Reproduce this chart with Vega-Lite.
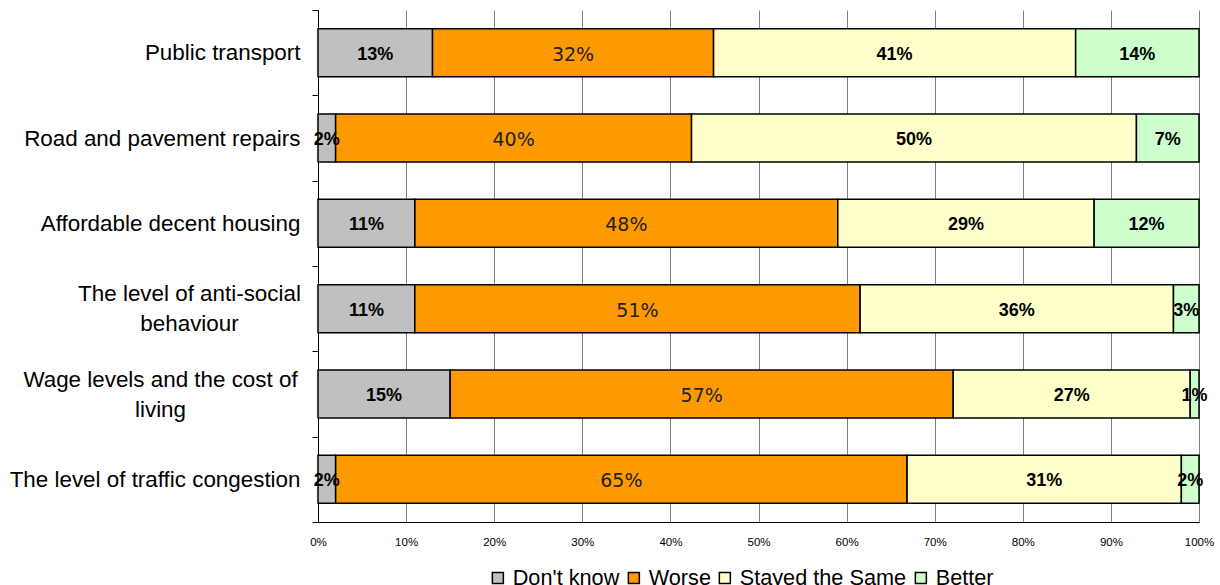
{
  "$schema": "https://vega.github.io/schema/vega-lite/v6.json",
  "width": 881,
  "height": 512,
  "autosize": {"type": "none"},
  "padding": {"left": 318, "top": 10, "right": 21, "bottom": 63},
  "background": "white",
  "config": {"view": {"stroke": null}, "font": "Liberation Sans"},
  "data": {
    "values": [
      {"item": "Public transport", "response": "Don't know", "value": 13.0, "label": "13%", "rank": 1},
      {"item": "Public transport", "response": "Worse", "value": 31.9, "label": "32%", "rank": 2},
      {"item": "Public transport", "response": "Stayed the Same", "value": 41.1, "label": "41%", "rank": 3},
      {"item": "Public transport", "response": "Better", "value": 14.0, "label": "14%", "rank": 4},
      {"item": "Road and pavement repairs", "response": "Don't know", "value": 2.0, "label": "2%", "rank": 1},
      {"item": "Road and pavement repairs", "response": "Worse", "value": 40.4, "label": "40%", "rank": 2},
      {"item": "Road and pavement repairs", "response": "Stayed the Same", "value": 50.5, "label": "50%", "rank": 3},
      {"item": "Road and pavement repairs", "response": "Better", "value": 7.1, "label": "7%", "rank": 4},
      {"item": "Affordable decent housing", "response": "Don't know", "value": 11.0, "label": "11%", "rank": 1},
      {"item": "Affordable decent housing", "response": "Worse", "value": 48.0, "label": "48%", "rank": 2},
      {"item": "Affordable decent housing", "response": "Stayed the Same", "value": 29.1, "label": "29%", "rank": 3},
      {"item": "Affordable decent housing", "response": "Better", "value": 11.9, "label": "12%", "rank": 4},
      {"item": "The level of anti-social behaviour", "response": "Don't know", "value": 11.0, "label": "11%", "rank": 1},
      {"item": "The level of anti-social behaviour", "response": "Worse", "value": 50.6, "label": "51%", "rank": 2},
      {"item": "The level of anti-social behaviour", "response": "Stayed the Same", "value": 35.6, "label": "36%", "rank": 3},
      {"item": "The level of anti-social behaviour", "response": "Better", "value": 2.9, "label": "3%", "rank": 4},
      {"item": "Wage levels and the cost of living", "response": "Don't know", "value": 15.0, "label": "15%", "rank": 1},
      {"item": "Wage levels and the cost of living", "response": "Worse", "value": 57.1, "label": "57%", "rank": 2},
      {"item": "Wage levels and the cost of living", "response": "Stayed the Same", "value": 26.9, "label": "27%", "rank": 3},
      {"item": "Wage levels and the cost of living", "response": "Better", "value": 1.0, "label": "1%", "rank": 4},
      {"item": "The level of traffic congestion", "response": "Don't know", "value": 2.0, "label": "2%", "rank": 1},
      {"item": "The level of traffic congestion", "response": "Worse", "value": 64.8, "label": "65%", "rank": 2},
      {"item": "The level of traffic congestion", "response": "Stayed the Same", "value": 31.1, "label": "31%", "rank": 3},
      {"item": "The level of traffic congestion", "response": "Better", "value": 2.0, "label": "2%", "rank": 4}
    ]
  },
  "encoding": {
    "y": {
      "field": "item",
      "type": "nominal",
      "sort": null,
      "scale": {"paddingInner": 0, "paddingOuter": 0},
      "axis": {
        "title": null,
        "grid": false,
        "tickBand": "extent",
        "tickSize": 6,
        "tickColor": "black",
        "domainColor": "black",
        "labelFontSize": 22.4,
        "labelColor": "black",
        "labelLimit": 400,
        "labelLineHeight": 30,
        "labelAlign": {"condition": {"test": "datum.value == 'The level of anti-social behaviour' || datum.value == 'Wage levels and the cost of living'", "value": "center"}, "value": "right"},
        "labelPadding": {"expr": "datum.value == 'The level of anti-social behaviour' ? 123 : datum.value == 'Wage levels and the cost of living' ? 152 : 12"},
        "labelOffset": {"condition": {"test": "datum.value == 'The level of anti-social behaviour' || datum.value == 'Wage levels and the cost of living'", "value": -15}, "value": 0},
        "labelExpr": "datum.value == 'The level of anti-social behaviour' ? ['The level of anti-social', 'behaviour'] : datum.value == 'Wage levels and the cost of living' ? ['Wage levels and the cost of', 'living'] : datum.value"
      }
    }
  },
  "layer": [
    {
      "mark": {"type": "bar", "size": 48, "stroke": "black", "strokeWidth": 1.5},
      "encoding": {
        "x": {
          "field": "value",
          "type": "quantitative",
          "stack": "normalize",
          "scale": {"domain": [0, 1]},
          "axis": {
            "title": null,
            "format": ".0%",
            "values": [0, 0.1, 0.2, 0.3, 0.4, 0.5, 0.6, 0.7, 0.8, 0.9, 1],
            "grid": true,
            "gridColor": "#808080",
            "gridWidth": 1,
            "ticks": false,
            "domainColor": "black",
            "labelFontSize": 11.5,
            "labelColor": "black",
            "labelPadding": 14,
            "labelFlush": false
          }
        },
        "color": {
          "field": "response",
          "type": "nominal",
          "scale": {
            "domain": ["Don't know", "Worse", "Stayed the Same", "Better"],
            "range": ["#C0C0C0", "#FF9900", "#FFFFCC", "#CCFFCC"]
          },
          "legend": {
            "title": null,
            "orient": "none",
            "legendX": 169,
            "legendY": 557,
            "direction": "horizontal",
            "labelFontSize": 21.7,
            "labelColor": "black",
            "labelLimit": 400,
            "symbolType": "square",
            "symbolSize": 121,
            "symbolStrokeColor": "black",
            "symbolStrokeWidth": 1.5,
            "labelOffset": 4,
            "columnPadding": 3
          }
        },
        "order": {"field": "rank", "type": "quantitative"}
      }
    },
    {
      "mark": {"type": "text", "fontWeight": "bold", "fontSize": 18, "font": "Liberation Sans", "color": "black", "dy": 2},
      "encoding": {
        "x": {"field": "value", "type": "quantitative", "stack": "normalize", "bandPosition": 0.5},
        "detail": {"field": "response"},
        "order": {"field": "rank", "type": "quantitative"},
        "text": {"condition": {"test": "datum.response === 'Worse'", "value": ""}, "field": "label"}
      }
    },
    {
      "mark": {"type": "text", "fontSize": 19, "font": "DejaVu Sans", "color": "#222222", "dy": 2},
      "encoding": {
        "x": {"field": "value", "type": "quantitative", "stack": "normalize", "bandPosition": 0.5},
        "detail": {"field": "response"},
        "order": {"field": "rank", "type": "quantitative"},
        "text": {"condition": {"test": "datum.response !== 'Worse'", "value": ""}, "field": "label"}
      }
    }
  ]
}
